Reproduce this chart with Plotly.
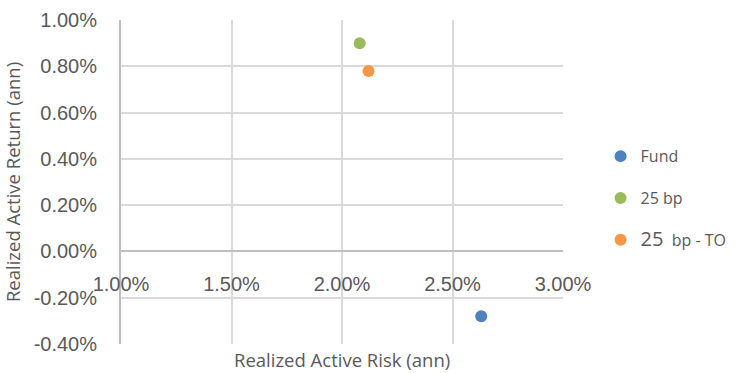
import plotly.graph_objects as go

# Realized active risk vs. realized active return (annualized)
series_names = ["Fund", "25 bp", "<span style='font-size:20px'>25</span>&nbsp; bp - TO"]
active_risk = [0.0263, 0.0208, 0.0212]
active_return = [-0.0028, 0.0090, 0.0078]
colors = ["#4F81BD", "#9BBB59", "#F79646"]

x_ticks = [0.01, 0.015, 0.02, 0.025, 0.03]
x_tick_text = ["1.00%", "1.50%", "2.00%", "2.50%", "3.00%"]
y_ticks = [-0.004, -0.002, 0.0, 0.002, 0.004, 0.006, 0.008, 0.01]
y_tick_text = ["-0.40%", "-0.20%", "0.00%", "0.20%", "0.40%", "0.60%", "0.80%", "1.00%"]

y_min, y_max = -0.004, 0.01

fig = go.Figure()
for i, name in enumerate(series_names):
    fig.add_trace(go.Scatter(
        x=[active_risk[i]], y=[active_return[i]],
        mode="markers", name=name, legendgroup=f"g{i}",
        marker=dict(size=12, color=colors[i]),
    ))

grid = "#D9D9D9"
axis_col = "#BFBFBF"
text_col = "#595959"
tick_font = dict(family="Liberation Sans, Arial", size=20, color=text_col)
title_font = dict(family="Open Sans", size=18.5, color=text_col)

fig.update_layout(
    width=735, height=373,
    margin=dict(l=121, r=172, t=20, b=29, autoexpand=False),
    paper_bgcolor="white", plot_bgcolor="white",
    showlegend=True,
    legend=dict(
        x=1.085, y=0.632, xanchor="left", yanchor="top",
        font=dict(family="Open Sans", size=16, color=text_col),
        tracegroupgap=18, itemwidth=30,
    ),
    xaxis=dict(
        range=[0.01, 0.03], tickvals=x_ticks, ticktext=x_tick_text,
        showgrid=True, gridcolor=grid, gridwidth=2,
        showline=False, zeroline=False,
        anchor="free", position=(0 - y_min) / (y_max - y_min),
        ticks="", ticklabelstandoff=19,
        tickfont=tick_font,
    ),
    yaxis=dict(
        range=[y_min, y_max], tickvals=y_ticks, ticktext=y_tick_text,
        showgrid=True, gridcolor=grid, gridwidth=2,
        showline=True, linecolor=axis_col, linewidth=2,
        zeroline=True, zerolinecolor=axis_col, zerolinewidth=2,
        ticks="", ticklabelstandoff=18,
        tickfont=tick_font,
        title=dict(text="Realized Active Return (ann)", standoff=8,
                   font=title_font),
    ),
    annotations=[dict(
        text="Realized Active Risk (ann)", xref="paper", yref="paper",
        x=0.5, y=-0.048, xanchor="center", yanchor="middle", showarrow=False,
        font=title_font,
    )],
)

fig.write_html("out.html")
